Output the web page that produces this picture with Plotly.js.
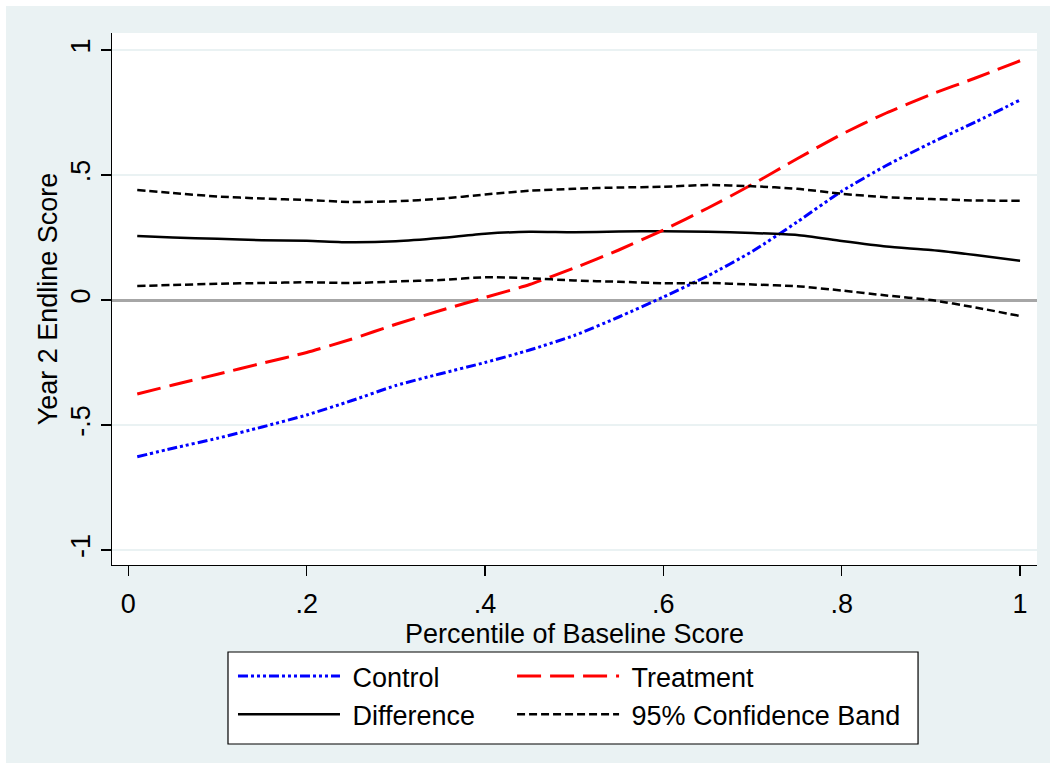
<!DOCTYPE html>
<html>
<head>
<meta charset="utf-8">
<script src="https://cdn.plot.ly/plotly-3.0.1.min.js"></script>
<style>
  html, body { margin: 0; padding: 0; background: #ffffff; }
  #chart { position: absolute; left: 6px; top: 6px; width: 1044px; height: 757px; }
</style>
</head>
<body>
<div id="chart"></div>
<script>
// Percentile of baseline score
const percentile = [0.01, 0.05, 0.10, 0.15, 0.20, 0.25, 0.30, 0.35, 0.40, 0.45, 0.50,
                    0.55, 0.60, 0.65, 0.70, 0.75, 0.80, 0.85, 0.90, 0.95, 1.00];
const control    = [-0.627, -0.593, -0.553, -0.508, -0.460, -0.403, -0.342, -0.295, -0.250, -0.200, -0.142,
                    -0.068, 0.012, 0.097, 0.195, 0.312, 0.435, 0.538, 0.628, 0.712, 0.800];
const treatment  = [-0.376, -0.340, -0.297, -0.253, -0.210, -0.157, -0.097, -0.042, 0.010, 0.062, 0.128,
                    0.200, 0.280, 0.368, 0.463, 0.565, 0.663, 0.748, 0.822, 0.888, 0.957];
const difference = [0.256, 0.250, 0.245, 0.239, 0.237, 0.231, 0.235, 0.248, 0.265, 0.273, 0.271,
                    0.274, 0.275, 0.273, 0.268, 0.260, 0.236, 0.214, 0.200, 0.180, 0.157];
const upperCI    = [0.440, 0.428, 0.414, 0.406, 0.400, 0.392, 0.395, 0.405, 0.422, 0.437, 0.445,
                    0.450, 0.453, 0.460, 0.455, 0.445, 0.425, 0.411, 0.404, 0.398, 0.397];
const lowerCI    = [0.056, 0.060, 0.065, 0.068, 0.071, 0.068, 0.074, 0.080, 0.091, 0.087, 0.078,
                    0.073, 0.067, 0.068, 0.062, 0.055, 0.038, 0.018, 0.000, -0.030, -0.064];

const xTickVals = [0, 0.2, 0.4, 0.6, 0.8, 1];
const xTickText = ['0', '.2', '.4', '.6', '.8', '1'];
const yTickVals = [-1, -0.5, 0, 0.5, 1];
const yTickText = ['-1', '-.5', '0', '.5', '1'];

const FONT = 'Liberation Sans, Arial, Helvetica, sans-serif';
const SP = '\u00A0';

const traces = [
  { x: percentile, y: control, type: 'scatter', mode: 'lines', name: SP + 'Control',
    legend: 'legend', line: { color: '#0000FF', width: 3, shape: 'spline', smoothing: 0.6,
    dash: '10px,3px,3px,3px,3px,3px,3px,3px' } },
  { x: percentile, y: difference, type: 'scatter', mode: 'lines', name: SP + 'Difference',
    legend: 'legend', line: { color: '#000000', width: 2.5, shape: 'spline', smoothing: 0.6 } },
  { x: percentile, y: treatment, type: 'scatter', mode: 'lines', name: SP + 'Treatment',
    legend: 'legend2', line: { color: '#FF0000', width: 3, shape: 'spline', smoothing: 0.6,
    dash: '24px,9px' } },
  { x: percentile, y: upperCI, type: 'scatter', mode: 'lines', name: SP + '95% Confidence Band',
    legend: 'legend2', legendgroup: 'ci',
    line: { color: '#000000', width: 2.5, shape: 'spline', smoothing: 0.6, dash: '8px,4px' } },
  { x: percentile, y: lowerCI, type: 'scatter', mode: 'lines', name: SP + '95% Confidence Band',
    legend: 'legend2', legendgroup: 'ci', showlegend: false,
    line: { color: '#000000', width: 2.5, shape: 'spline', smoothing: 0.6, dash: '8px,4px' } }
];

const legendCommon = {
  orientation: 'v', xanchor: 'left', yanchor: 'top',
  bgcolor: 'rgba(0,0,0,0)', borderwidth: 0,
  font: { family: FONT, size: 27, color: '#000000' },
  itemwidth: 102, tracegroupgap: 0
};

const layout = {
  width: 1044, height: 757,
  paper_bgcolor: '#EAF2F3',
  plot_bgcolor: '#FFFFFF',
  margin: { l: 106, r: 13, t: 27, b: 198 },
  font: { family: FONT, size: 27, color: '#000000' },
  showlegend: true,
  legend: Object.assign({}, legendCommon, { x: 0.1308, y: -0.1635 }),
  legend2: Object.assign({}, legendCommon, { x: 0.4325, y: -0.1635 }),
  xaxis: {
    range: [-0.0183, 1.019],
    tickvals: xTickVals, ticktext: xTickText,
    showgrid: false, zeroline: false,
    showline: true, linecolor: '#000000', linewidth: 1.2, mirror: false,
    ticks: 'outside', ticklen: 10, tickwidth: 1.2, tickcolor: '#000000',
    ticklabelstandoff: 4,
    tickfont: { family: FONT, size: 27, color: '#000000' },
    title: { text: 'Percentile of Baseline Score', standoff: 0,
             font: { family: FONT, size: 27, color: '#000000' } }
  },
  yaxis: {
    range: [-1.06, 1.068],
    tickvals: yTickVals, ticktext: yTickText,
    tickangle: -90,
    showgrid: true, gridcolor: '#EAF2F3', gridwidth: 2,
    zeroline: true, zerolinecolor: '#A6A6A6', zerolinewidth: 3,
    showline: true, linecolor: '#000000', linewidth: 1.2, mirror: false,
    ticks: 'outside', ticklen: 10, tickwidth: 1.2, tickcolor: '#000000',
    tickfont: { family: FONT, size: 27, color: '#000000' },
    title: { text: 'Year 2 Endline Score', standoff: 0,
             font: { family: FONT, size: 27, color: '#000000' } }
  },
  shapes: [
    { type: 'rect', xref: 'paper', yref: 'paper',
      x0: 0.1254, x1: 0.8714, y0: -0.3365, y1: -0.1635,
      line: { color: '#000000', width: 1.2 }, fillcolor: '#FFFFFF', layer: 'below' }
  ]
};

Plotly.newPlot('chart', traces, layout, { displayModeBar: false, staticPlot: true });
</script>
</body>
</html>
